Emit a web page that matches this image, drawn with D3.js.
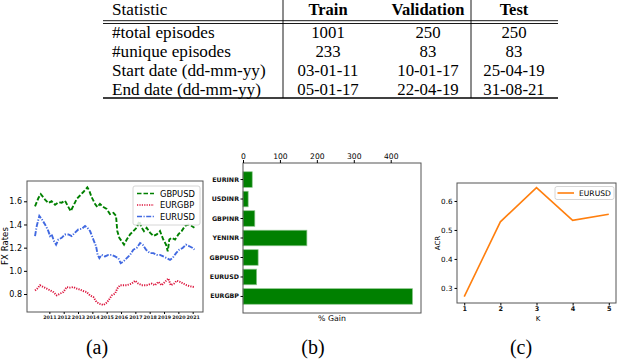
<!DOCTYPE html>
<html>
<head>
<meta charset="utf-8">
<script src="https://cdn.jsdelivr.net/npm/d3@7"></script>
<style>
  body { margin: 0; background: #fff; }
  svg { display: block; }
  .sans { font-family: "DejaVu Sans", sans-serif; }
  .serif { font-family: "Liberation Serif", "Times New Roman", serif; }
</style>
</head>
<body>
<script>
// ---- table ----
var tableHeader = ["Statistic", "Train", "Validation", "Test"];
var tableRows = [
  ["#total episodes", "1001", "250", "250"],
  ["#unique episodes", "233", "83", "83"],
  ["Start date (dd-mm-yy)", "03-01-11", "10-01-17", "25-04-19"],
  ["End date (dd-mm-yy)", "05-01-17", "22-04-19", "31-08-21"]
];

// ---- (a) FX rates, [year on axis, rate] ----
var gbpusd = [
  [2010.00,1.556],[2010.23,1.626],[2010.40,1.662],[2010.70,1.615],[2010.93,1.585],
  [2011.16,1.600],[2011.40,1.570],[2011.63,1.592],[2011.86,1.588],[2012.09,1.605],
  [2012.33,1.550],[2012.49,1.515],[2012.67,1.560],[2012.91,1.620],[2013.14,1.650],
  [2013.37,1.680],[2013.65,1.720],[2013.79,1.690],[2013.95,1.635],[2014.19,1.577],
  [2014.35,1.550],[2014.53,1.577],[2014.77,1.550],[2015.00,1.533],[2015.23,1.490],
  [2015.47,1.500],[2015.65,1.475],[2015.74,1.343],[2015.88,1.285],[2016.05,1.255],
  [2016.21,1.226],[2016.40,1.270],[2016.63,1.314],[2016.86,1.343],[2017.09,1.372],
  [2017.28,1.430],[2017.44,1.372],[2017.60,1.343],[2017.79,1.372],[2018.02,1.330],
  [2018.26,1.300],[2018.49,1.314],[2018.72,1.343],[2018.95,1.270],[2019.14,1.226],
  [2019.26,1.168],[2019.37,1.270],[2019.53,1.285],[2019.77,1.270],[2020.00,1.314],
  [2020.23,1.343],[2020.47,1.387],[2020.70,1.400],[2020.93,1.387],[2021.12,1.372]
];
var eurgbp = [
  [2010.00,0.830],[2010.16,0.847],[2010.35,0.876],[2010.58,0.860],[2010.81,0.847],
  [2011.05,0.832],[2011.28,0.817],[2011.51,0.788],[2011.74,0.803],[2011.98,0.817],
  [2012.21,0.860],[2012.44,0.855],[2012.67,0.860],[2012.91,0.847],[2013.14,0.838],
  [2013.37,0.826],[2013.60,0.817],[2013.84,0.788],[2014.07,0.774],[2014.30,0.730],
  [2014.53,0.715],[2014.77,0.705],[2014.95,0.720],[2015.12,0.744],[2015.35,0.788],
  [2015.58,0.803],[2015.74,0.847],[2015.93,0.876],[2016.16,0.876],[2016.40,0.876],
  [2016.74,0.890],[2016.98,0.915],[2017.21,0.890],[2017.44,0.876],[2017.79,0.876],
  [2018.14,0.890],[2018.37,0.876],[2018.60,0.905],[2018.84,0.876],[2019.07,0.905],
  [2019.30,0.934],[2019.47,0.876],[2019.70,0.890],[2019.88,0.915],[2020.12,0.905],
  [2020.35,0.890],[2020.58,0.876],[2020.81,0.867],[2021.12,0.860]
];
var eurusd = [
  [2010.00,1.300],[2010.12,1.387],[2010.30,1.474],[2010.47,1.445],[2010.70,1.400],
  [2010.93,1.343],[2011.05,1.300],[2011.16,1.314],[2011.33,1.255],[2011.47,1.226],
  [2011.63,1.270],[2011.86,1.285],[2012.09,1.314],[2012.33,1.314],[2012.56,1.300],
  [2012.79,1.330],[2013.02,1.357],[2013.26,1.363],[2013.49,1.387],[2013.65,1.372],
  [2013.84,1.343],[2014.07,1.270],[2014.26,1.212],[2014.37,1.138],[2014.49,1.110],
  [2014.65,1.138],[2014.88,1.124],[2015.12,1.138],[2015.35,1.138],[2015.58,1.124],
  [2015.81,1.110],[2015.98,1.066],[2016.16,1.080],[2016.40,1.110],[2016.63,1.138],
  [2016.86,1.183],[2017.09,1.197],[2017.33,1.240],[2017.51,1.226],[2017.74,1.183],
  [2018.02,1.153],[2018.26,1.153],[2018.49,1.138],[2018.72,1.138],[2018.95,1.124],
  [2019.19,1.110],[2019.42,1.095],[2019.60,1.110],[2019.84,1.153],[2020.07,1.183],
  [2020.30,1.197],[2020.53,1.226],[2020.77,1.212],[2021.00,1.197],[2021.12,1.183]
];
var fxYears = [2011,2012,2013,2014,2015,2016,2017,2018,2019,2020,2021];
var fxTicks = [0.8,1.0,1.2,1.4,1.6];

// ---- (b) % gain ----
var pairs = ["EURINR","USDINR","GBPINR","YENINR","GBPUSD","EURUSD","EURGBP"];
var gains = [25, 14, 32, 173, 41, 37, 459];
var gainTicks = [0,100,200,300,400];

// ---- (c) ACR vs K ----
var kVals = [1,2,3,4,5];
var acr = [0.270, 0.528, 0.646, 0.533, 0.554];
var acrTicks = [0.3,0.4,0.5,0.6];

var svg = d3.select("body").append("svg").attr("width", 620).attr("height", 360);

// ================= table =================
var tab = svg.append("g").attr("class", "serif");
var tL = 103, tR = 558, tTop = 0, tBot = 98;
var colX = [112, 328, 428, 514];
var rowY = [32.5, 51.5, 70.5, 89.5];

tab.selectAll(".hd").data(tableHeader).enter().append("text")
  .attr("x", function(d, i) { return colX[i]; })
  .attr("y", 14.5)
  .attr("text-anchor", function(d, i) { return i == 0 ? "start" : "middle"; })
  .attr("font-weight", function(d, i) { return i == 0 ? "normal" : "bold"; })
  .attr("font-size", function(d, i) { return i == 0 ? "17.2px" : "16.5px"; })
  .text(function(d) { return d; });

tableRows.forEach(function(row, r) {
  tab.selectAll(".r" + r).data(row).enter().append("text")
    .attr("x", function(d, i) { return colX[i]; })
    .attr("y", rowY[r] + 5.5)
    .attr("text-anchor", function(d, i) { return i == 0 ? "start" : "middle"; })
    .attr("font-size", function(d, i) { return i == 0 ? "17.2px" : "16.8px"; })
    .text(function(d) { return d; });
});

tab.append("line").attr("x1", tL).attr("x2", tR).attr("y1", 20.7).attr("y2", 20.7).attr("stroke", "#000").attr("stroke-width", 0.9);
tab.append("line").attr("x1", tL).attr("x2", tR).attr("y1", 23.5).attr("y2", 23.5).attr("stroke", "#000").attr("stroke-width", 0.9);
tab.append("line").attr("x1", tL).attr("x2", tR).attr("y1", tBot).attr("y2", tBot).attr("stroke", "#000").attr("stroke-width", 1.4);
[283, 471].forEach(function(x) {
  tab.append("line").attr("x1", x).attr("x2", x).attr("y1", tTop).attr("y2", tBot).attr("stroke", "#000").attr("stroke-width", 0.9);
});

// helpers
function frame(g, x0, y0, x1, y1) {
  g.append("rect").attr("x", x0).attr("y", y0).attr("width", x1 - x0).attr("height", y1 - y0)
    .attr("fill", "none").attr("stroke", "#555").attr("stroke-width", 1);
}

// ================= (a) =================
var ga = svg.append("g").attr("class", "sans");
var aL = 27, aR = 203, aT = 181, aB = 312;
var xa = d3.scaleLinear().domain([2009.44, 2021.72]).range([aL, aR]);
var ya = d3.scaleLinear().domain([0.645, 1.775]).range([aB, aT]);

var lineA = d3.line().x(function(d) { return xa(d[0]); }).y(function(d) { return ya(d[1]); });

var seriesA = [
  {name: "GBPUSD", data: gbpusd, color: "#008000", dash: "4.5,2"},
  {name: "EURGBP", data: eurgbp, color: "#dc143c", dash: "1.2,1.2"},
  {name: "EURUSD", data: eurusd, color: "#4169e1", dash: "5,1.5,1.2,1.5"}
];
seriesA.forEach(function(s) {
  ga.append("path").datum(s.data).attr("d", lineA)
    .attr("fill", "none").attr("stroke", s.color).attr("stroke-width", 1.9)
    .attr("stroke-dasharray", s.dash);
});

frame(ga, aL, aT, aR, aB);

var axLeftA = ga.append("g").attr("transform", "translate(" + aL + ",0)")
  .call(d3.axisLeft(ya).tickValues(fxTicks).tickFormat(d3.format(".1f")).tickSize(3).tickPadding(2));
axLeftA.select(".domain").remove();
axLeftA.selectAll("text").attr("font-size", "8px").attr("font-family", "DejaVu Sans").attr("fill", "#000");

var axBotA = ga.append("g").attr("transform", "translate(0," + aB + ")")
  .call(d3.axisBottom(xa).tickValues(fxYears).tickFormat(d3.format("d")).tickSize(2).tickPadding(1.5));
axBotA.select(".domain").remove();
axBotA.selectAll("text").attr("font-size", "4.8px").attr("font-family", "DejaVu Sans").attr("font-weight", "bold").attr("fill", "#222");

ga.append("text").attr("transform", "translate(7.5,246) rotate(-90)")
  .attr("text-anchor", "middle").attr("font-size", "8.6px").text("FX Rates");

var legA = ga.append("g");
legA.append("rect").attr("x", 133).attr("y", 186).attr("width", 67).attr("height", 39).attr("rx", 2)
  .attr("fill", "#fff").attr("fill-opacity", 0.85).attr("stroke", "#ccc").attr("stroke-width", 0.8);
seriesA.forEach(function(s, i) {
  var yy = 193.5 + i * 11.5;
  legA.append("line").attr("x1", 137).attr("x2", 154).attr("y1", yy).attr("y2", yy)
    .attr("stroke", s.color).attr("stroke-width", 1.6).attr("stroke-dasharray", s.dash);
  legA.append("text").attr("x", 160).attr("y", yy + 3).attr("font-size", "8.3px").text(s.name);
});

// ================= (b) =================
var gb = svg.append("g").attr("class", "sans");
var bL = 243, bR = 421, bT = 163, bB = 313;
var xb = d3.scaleLinear().domain([0, 482]).range([bL, bR]);
var yb = d3.scaleBand().domain(pairs).range([bT + 6.8, bB - 6.8]).paddingInner(0.2).paddingOuter(0.1);

gb.selectAll(".bar").data(pairs).enter().append("rect")
  .attr("x", xb(0))
  .attr("y", function(d) { return yb(d); })
  .attr("width", function(d, i) { return xb(gains[i]) - xb(0); })
  .attr("height", yb.bandwidth())
  .attr("fill", "#008000").attr("stroke", "#8cc68c").attr("stroke-width", 0.7);

frame(gb, bL, bT, bR, bB);

var axTopB = gb.append("g").attr("transform", "translate(0," + bT + ")")
  .call(d3.axisTop(xb).tickValues(gainTicks).tickSize(3).tickPadding(1.5));
axTopB.select(".domain").remove();
axTopB.selectAll("text").attr("font-size", "7.6px").attr("font-family", "DejaVu Sans").attr("fill", "#000");

var axLeftB = gb.append("g").attr("transform", "translate(" + bL + ",0)")
  .call(d3.axisLeft(yb).tickSize(2.5).tickPadding(1.5));
axLeftB.select(".domain").remove();
axLeftB.selectAll("text").attr("font-size", "6.3px").attr("font-family", "DejaVu Sans").attr("font-weight", "bold").attr("fill", "#111");

gb.append("text").attr("x", 332).attr("y", 321).attr("text-anchor", "middle")
  .attr("font-size", "7.8px").text("% Gain");

// ================= (c) =================
var gc = svg.append("g").attr("class", "sans");
var cL = 457, cR = 616, cT = 183, cB = 303;
var xc = d3.scaleLinear().domain([0.8, 5.2]).range([cL, cR]);
var yc = d3.scaleLinear().domain([0.248, 0.662]).range([cB, cT]);

var lineC = d3.line().x(function(d, i) { return xc(kVals[i]); }).y(function(d) { return yc(d); });
gc.append("path").datum(acr).attr("d", lineC)
  .attr("fill", "none").attr("stroke", "#ff7f0e").attr("stroke-width", 1.6);

frame(gc, cL, cT, cR, cB);

var axLeftC = gc.append("g").attr("transform", "translate(" + cL + ",0)")
  .call(d3.axisLeft(yc).tickValues(acrTicks).tickFormat(d3.format(".1f")).tickSize(2.5).tickPadding(2));
axLeftC.select(".domain").remove();
axLeftC.selectAll("text").attr("font-size", "7.2px").attr("font-family", "DejaVu Sans").attr("fill", "#000");

var axBotC = gc.append("g").attr("transform", "translate(0," + cB + ")")
  .call(d3.axisBottom(xc).tickValues(kVals).tickFormat(d3.format("d")).tickSize(2.5).tickPadding(1));
axBotC.select(".domain").remove();
axBotC.selectAll("text").attr("font-size", "6.5px").attr("font-family", "DejaVu Sans").attr("font-weight", "bold").attr("fill", "#111");

gc.append("text").attr("x", 538).attr("y", 320.5).attr("text-anchor", "middle")
  .attr("font-size", "7px").text("K");
gc.append("text").attr("transform", "translate(439.5,243) rotate(-90)")
  .attr("text-anchor", "middle").attr("font-size", "7px").text("ACR");

var legC = gc.append("g");
legC.append("rect").attr("x", 555).attr("y", 186.5).attr("width", 59).attr("height", 13).attr("rx", 2)
  .attr("fill", "#fff").attr("stroke", "#ccc").attr("stroke-width", 0.8);
legC.append("line").attr("x1", 557.5).attr("x2", 574).attr("y1", 193).attr("y2", 193)
  .attr("stroke", "#ff7f0e").attr("stroke-width", 1.6);
legC.append("text").attr("x", 579).attr("y", 196).attr("font-size", "7.6px").text("EURUSD");

// ================= captions =================
var caps = ["(a)", "(b)", "(c)"];
var capX = [97, 313, 521];
svg.selectAll(".cap").data(caps).enter().append("text")
  .attr("class", "serif")
  .attr("x", function(d, i) { return capX[i]; })
  .attr("y", 354)
  .attr("text-anchor", "middle")
  .attr("font-size", "20px")
  .text(function(d) { return d; });
</script>
</body>
</html>
